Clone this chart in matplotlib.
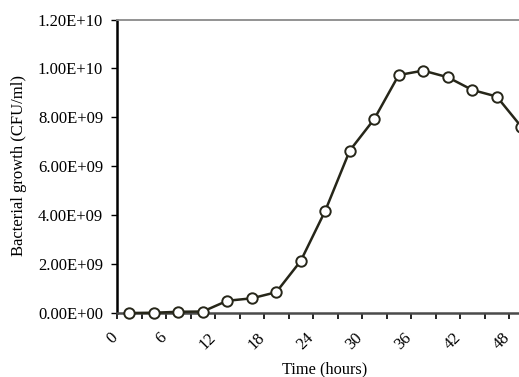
import numpy as np
import matplotlib
matplotlib.use('Agg')
import matplotlib.pyplot as plt
from matplotlib.transforms import ScaledTranslation

# time points (hours) and growth (CFU/ml)
hours = [0, 3, 6, 9, 12, 15, 18, 21, 24, 27, 30, 33, 36, 39, 42, 45, 48]
growth = [0.0, 0.01e9, 0.05e9, 0.06e9, 0.5e9, 0.6e9, 0.85e9, 2.13e9, 4.18e9,
          6.64e9, 7.93e9, 9.73e9, 9.91e9, 9.64e9, 9.12e9, 8.85e9, 7.62e9]
shown_labels = ['0', '6', '12', '18', '24', '30', '36', '42', '48']
yticks = [0, 2e9, 4e9, 6e9, 8e9, 1e10, 1.2e10]
ytick_labels = ['0.00E+00', '2.00E+09', '4.00E+09', '6.00E+09',
                '8.00E+09', '1.00E+10', '1.20E+10']

plt.rcParams['font.family'] = ['Liberation Serif', 'DejaVu Serif']

W, H = 519, 377
fig = plt.figure(figsize=(W / 100, H / 100), dpi=100)
ax = fig.add_axes([117 / W, 64 / H, 416.5 / W, 293.5 / H])

# category axis like in Excel
idx = np.arange(len(hours))
line_col = '#262619'
ax.plot(idx, growth, color=line_col, lw=1.8, marker='o', ms=7.5,
        mfc='white', mec=line_col, mew=1.4, clip_on=False, zorder=3)

ax.set_xlim(-0.5, len(hours) - 0.5)
ax.set_ylim(0, 1.2e10)

ax.set_yticks(yticks)
ax.set_yticklabels(ytick_labels, fontsize=12)
ax.tick_params(axis='y', direction='out', length=4, width=1, pad=6)

ax.set_xticks(idx[::2])
ax.set_xticklabels(shown_labels, fontsize=12, rotation=45, ha='right',
                   va='center', rotation_mode='anchor')
ax.set_xticks(np.arange(-0.5, len(hours), 1), minor=True)
ax.tick_params(axis='x', which='major', length=0, pad=16)
ax.tick_params(axis='x', which='minor', direction='out', length=4, width=1.2)
off = ScaledTranslation(-14 / 100, 0, fig.dpi_scale_trans)
for lab in ax.get_xticklabels():
    lab.set_transform(lab.get_transform() + off)

ax.spines['left'].set_linewidth(1.8)
ax.spines['left'].set_color('black')
ax.spines['bottom'].set_linewidth(1.8)
ax.spines['bottom'].set_color('#4a4a4a')
ax.spines['top'].set_linewidth(1.3)
ax.spines['top'].set_color('#8a8a8a')
ax.spines['right'].set_visible(False)

ax.set_ylabel('Bacterial growth (CFU/ml)', fontsize=12, va='center')
ax.yaxis.set_label_coords(-98 / 416.5, 0.504)
ax.set_xlabel('Time (hours)', fontsize=11.8, va='center')
ax.xaxis.set_label_coords(0.498, -56 / 293.5)

fig.savefig('out.png', dpi=100)
